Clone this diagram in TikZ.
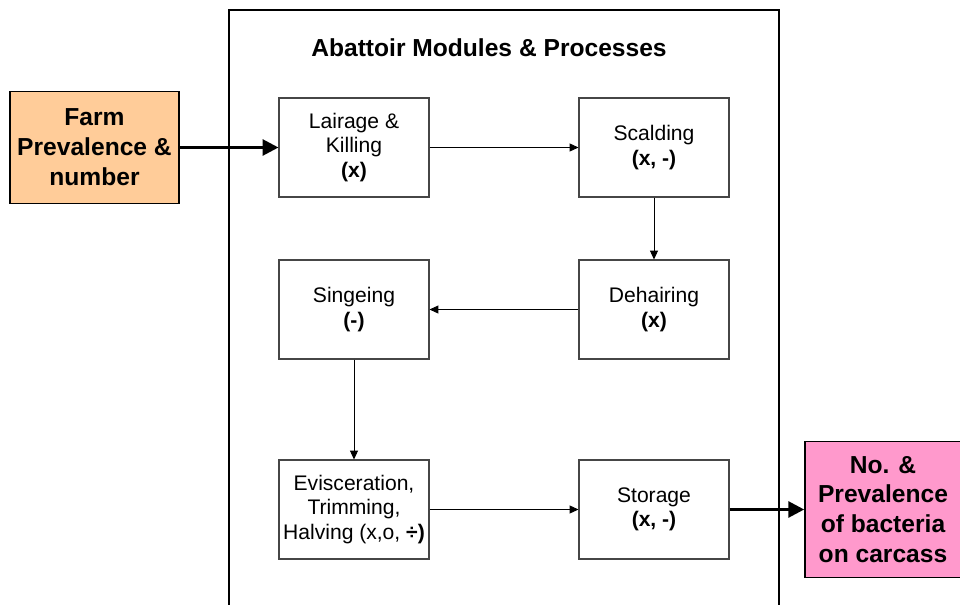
\documentclass[tikz,border=0pt]{standalone}
\usepackage{fontspec}
\setmainfont{Liberation Sans}
\usepackage{xcolor}
\usepackage{tikz}
\usetikzlibrary{positioning, arrows.meta}
\definecolor{FarmOrange}{RGB}{255,204,153}
\definecolor{CarcassPink}{RGB}{255,153,204}
\definecolor{BoxGrey}{RGB}{70,70,70}
\tikzset{
  abframe/.style={draw=black, line width=1.1pt, fill=white, minimum width=11cm, minimum height=12.6cm, inner sep=0pt},
  abtitle/.style={font=\fontsize{14}{17}\selectfont\bfseries, inner sep=1pt},
  procbox/.style={draw=BoxGrey, line width=0.6pt, fill=white, minimum width=3cm, minimum height=1.98cm,
    inner sep=2pt, align=center, font=\fontsize{12}{14}\selectfont},
  endbox/.style={draw=black, line width=0.9pt, inner sep=2pt, align=center, font=\fontsize{14}{17}\selectfont\bfseries},
  farmbox/.style={endbox, fill=FarmOrange, minimum width=3.38cm, minimum height=2.24cm},
  carcbox/.style={endbox, fill=CarcassPink, minimum width=3.12cm, minimum height=2.72cm},
  flow/.style={-{Triangle[length=5pt,width=4.5pt]}, line width=0.5pt, black},
  bigflow/.style={-{Triangle[length=9pt,width=9pt]}, line width=1.7pt, black},
}

\begin{document}
\begin{tikzpicture}[x=0.02cm, y=-0.02cm]
  \useasboundingbox (0,0) rectangle (960,605);
  \clip (0,0) rectangle (960,605);

  \node[abframe] (frame) at (504,325) {};
  \node[abtitle] (title) at (489,48) {Abattoir Modules \& Processes};

  % modules inside the abattoir
  \node[procbox] (lairage) at (354,147.5) {Lairage \&\\Killing\\\textbf{(x)}};
  \node[procbox] (scalding) at (654,147.5) {Scalding\\\textbf{(x, -)}};
  \node[procbox] (dehairing) at (654,309.5) {Dehairing\\\textbf{(x)}};
  \node[procbox] (singeing) at (354,309.5) {Singeing\\\textbf{(-)}};
  \node[procbox] (evisc) at (354,509.5) {Evisceration,\\Trimming,\\Halving (x,o, \textbf{÷)}};
  \node[procbox] (storage) at (654,509.5) {Storage\\\textbf{(x, -)}};

  % inputs and outputs
  \node[farmbox] (farm) at (94.5,147.5) {Farm\\Prevalence \&\\number};
  \node[carcbox] (carcass) at (883,509.5) {No. \&\\Prevalence\\of bacteria\\on carcass};

  \draw[flow] (lairage) -- (scalding);
  \draw[flow] (scalding) -- (dehairing);
  \draw[flow] (dehairing) -- (singeing);
  \draw[flow] (singeing) -- (evisc);
  \draw[flow] (evisc) -- (storage);

  \draw[bigflow] (farm) -- (lairage);
  \draw[bigflow] (storage) -- (carcass);
\end{tikzpicture}
\end{document}
